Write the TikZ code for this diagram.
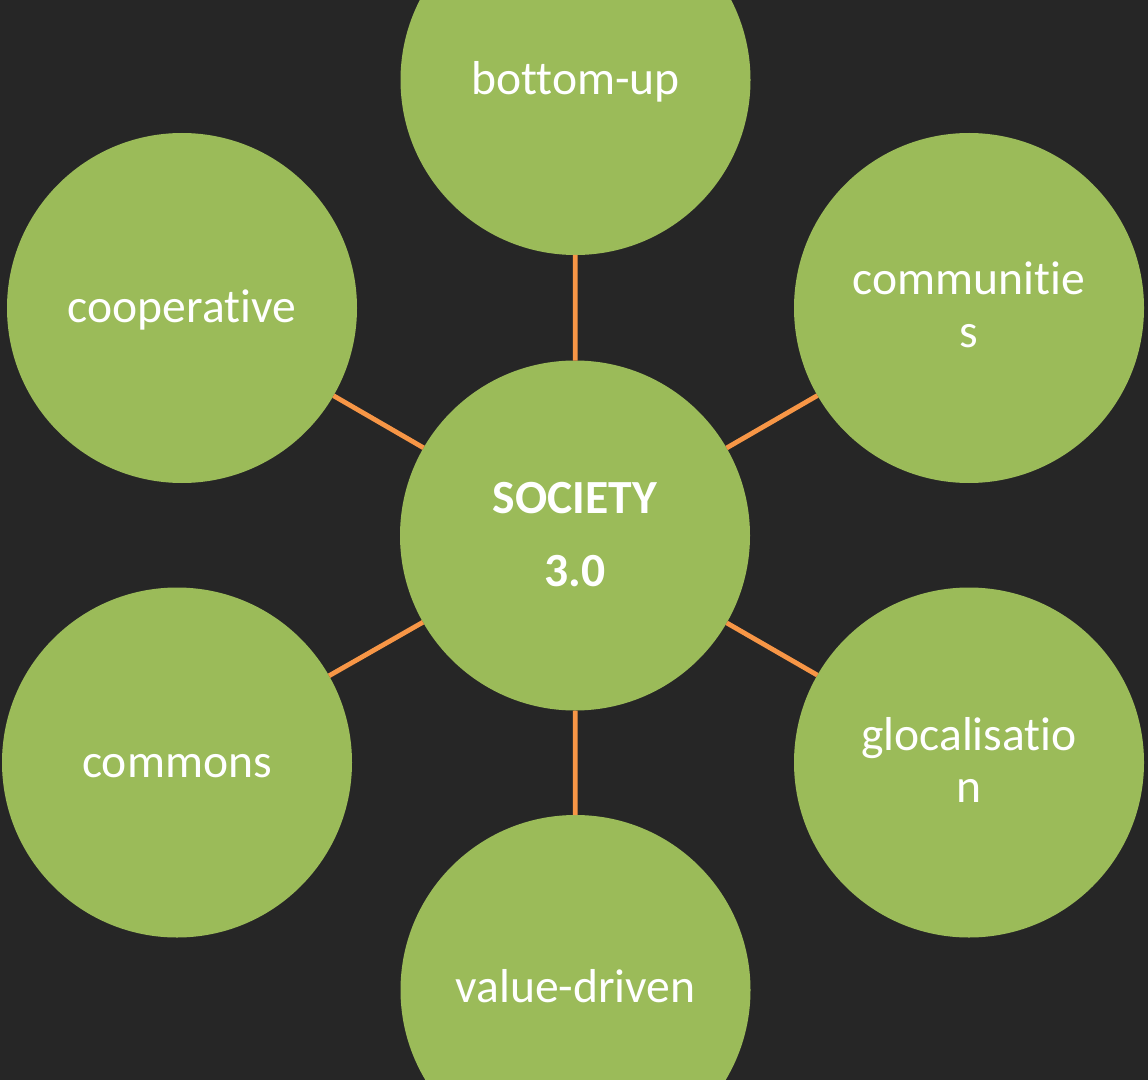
\documentclass[tikz,border=0pt]{standalone}
\usepackage{fontspec}
\setmainfont{Carlito}[Ligatures={NoCommon,NoContextual}]
\definecolor{bgdark}{HTML}{262626}
\definecolor{nodegreen}{HTML}{9BBB59}
\definecolor{linkorange}{HTML}{F79646}
\begin{document}
\begin{tikzpicture}[x=0.75pt,y=-0.75pt,
  bubble/.style={circle,fill=nodegreen,draw=none,minimum size=262.5pt,inner sep=0pt,outer sep=0pt},
  lbl/.style={anchor=base,text=white,inner sep=0pt,font=\fontsize{35.7pt}{39pt}\selectfont},
  boldlbl/.style={lbl,font=\fontsize{35.7pt}{39pt}\selectfont\bfseries},
  link/.style={draw=linkorange,line width=3.6pt}]
\fill[bgdark] (0,0) rectangle (1148,1080);
\useasboundingbox (0,0) rectangle (1148,1080);
\node[bubble] (ctr) at (575,535.5) {};
\node[bubble] (top) at (575.5,80) {};
\node[bubble] (bot) at (575.5,990) {};
\node[bubble] (ul) at (182,308) {};
\node[bubble] (ll) at (177,762.5) {};
\node[bubble] (ur) at (969,308) {};
\node[bubble] (lr) at (969,762.5) {};
\draw[link] (ctr) -- (top);
\draw[link] (ctr) -- (bot);
\draw[link] (ctr) -- (ul);
\draw[link] (ctr) -- (ll);
\draw[link] (ctr) -- (ur);
\draw[link] (ctr) -- (lr);
\node[boldlbl] (t1) at (575,513) {SOCIETY};
\node[boldlbl] (t2) at (575,586) {3.0};
\node[lbl] (t3) at (575.5,95) {bottom-up};
\node[lbl] (t4) at (575.5,1002) {value-driven};
\node[lbl] (t5) at (182,322) {cooperative};
\node[lbl] (t6) at (177,777) {commons};
\node[lbl] (t7) at (969,295) {communitie};
\node[lbl] (t8) at (969,347) {s};
\node[lbl] (t9) at (969,750) {glocalisatio};
\node[lbl] (t10) at (969,802) {n};
\end{tikzpicture}
\end{document}
